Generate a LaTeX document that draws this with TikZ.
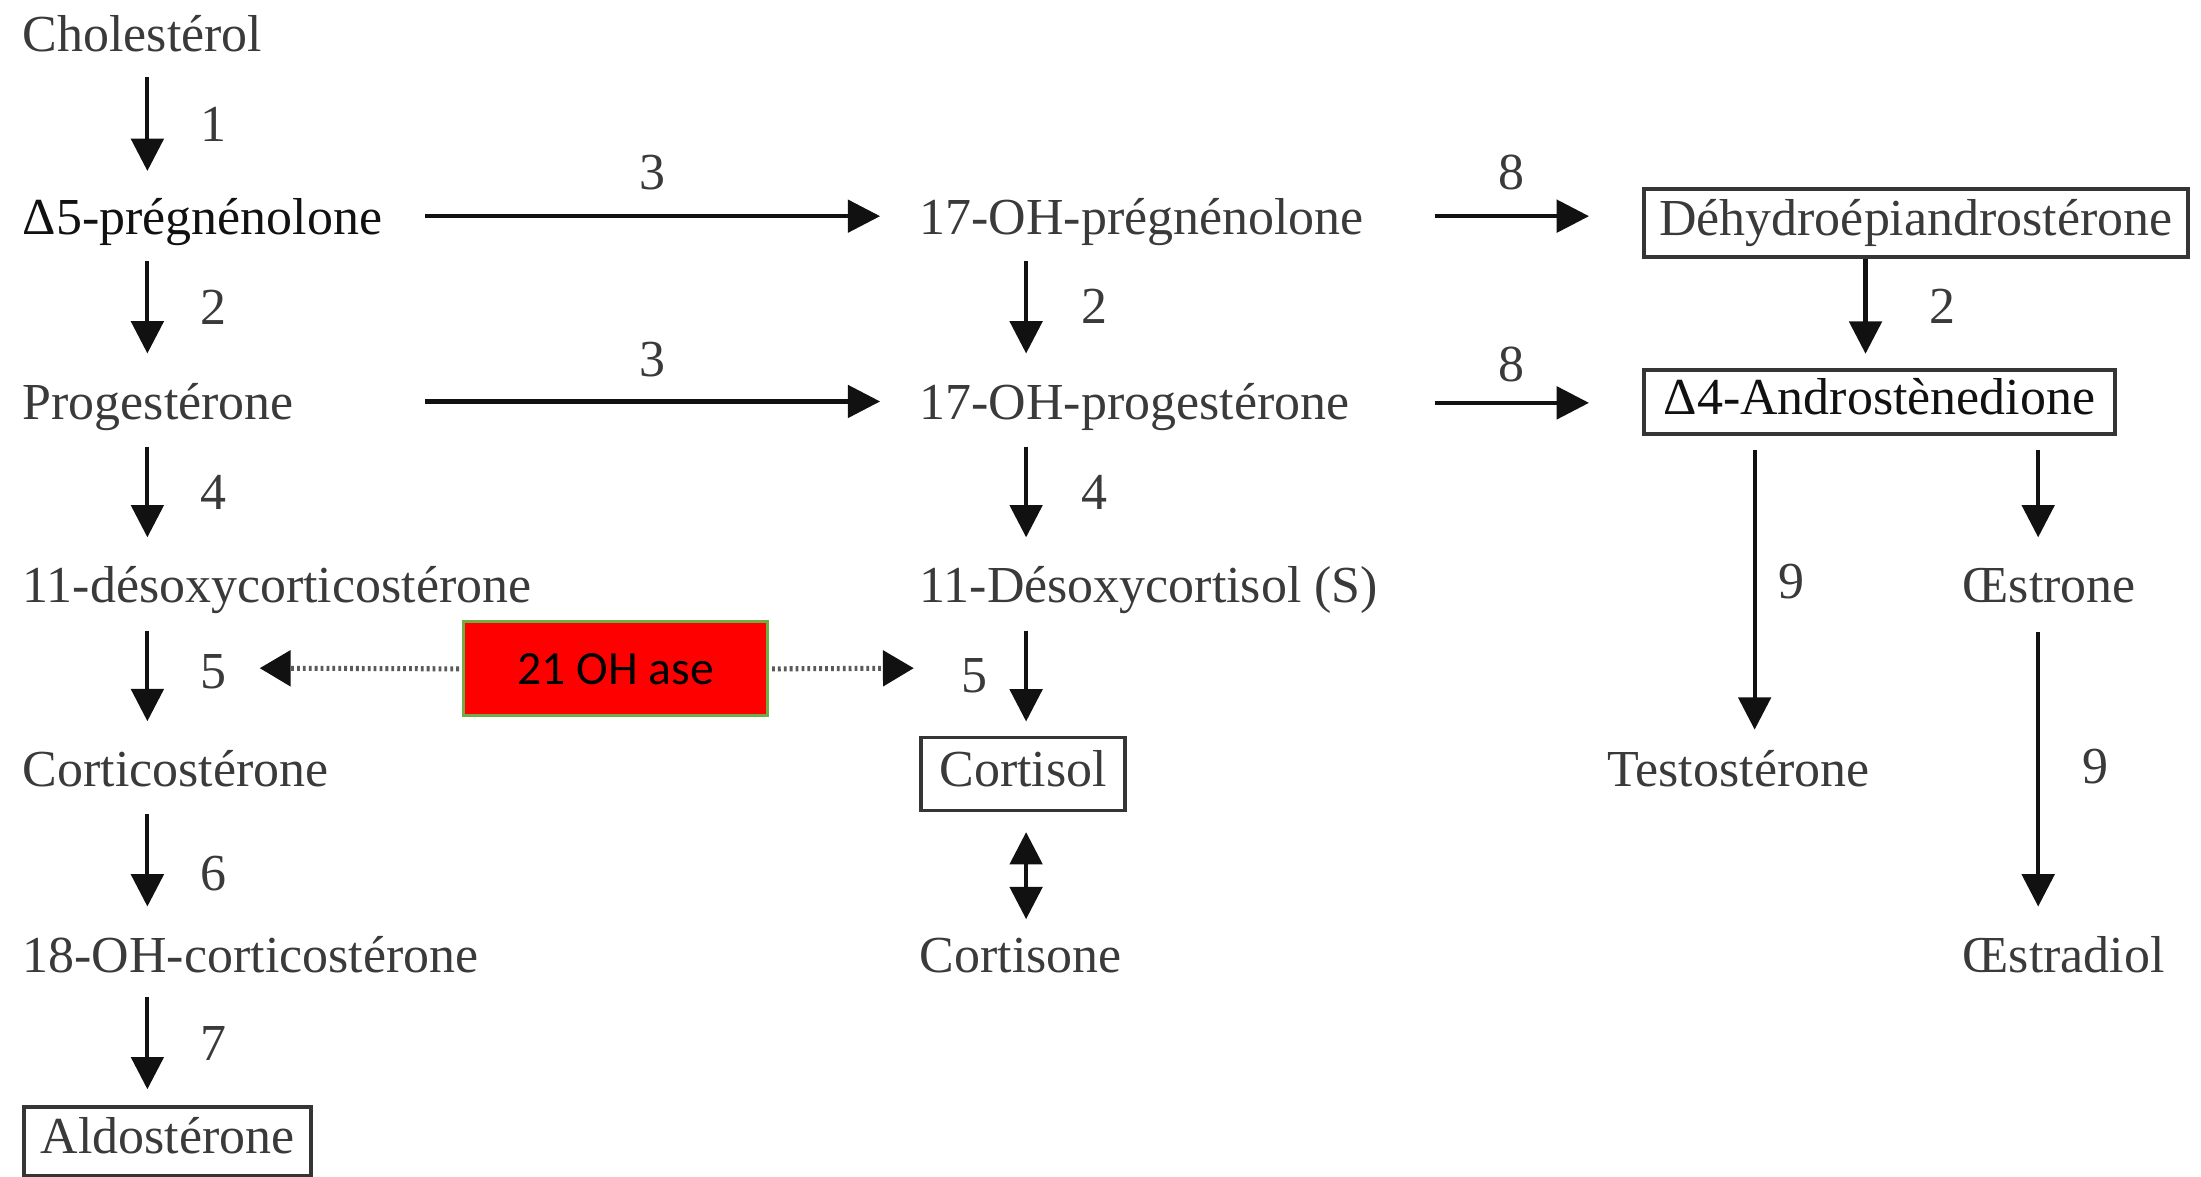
\documentclass[tikz,border=0pt]{standalone}
\usepackage{fontspec}
\setmainfont{Liberation Serif}
\newfontfamily\calfont{Carlito}
\usetikzlibrary{arrows.meta,calc}
\definecolor{txt}{HTML}{3A3A3A}
\definecolor{ink}{HTML}{111111}
\definecolor{dotc}{HTML}{5A5A5A}
\definecolor{boxgreen}{HTML}{70AD47}
\begin{document}
\begin{tikzpicture}[x=1pt,y=-1pt,
  lbl/.style={anchor=base west, inner sep=0pt, text height=26pt, text depth=8pt,
              font=\fontsize{37}{40}\selectfont, text=txt},
  dark/.style={text=ink},
  boxed/.style={draw=ink!85, line width=2.8pt, inner sep=0pt, text height=26pt, text depth=8pt,
              font=\fontsize{37}{40}\selectfont, text=txt, anchor=north west, minimum height=49pt},
  num/.style={inner sep=0pt, font=\fontsize{37}{40}\selectfont, text=txt},
  arr/.style={draw=ink, line width=3pt, -{Triangle[width=23pt,length=23pt]}},
  darr/.style={draw=ink, line width=3pt, {Triangle[width=23pt,length=23pt]}-{Triangle[width=23pt,length=23pt]}},
  dotarr/.style={draw=dotc, line width=3.6pt, dash pattern=on 2pt off 2.2pt, shorten <=2pt,
              -{Triangle[width=25pt,length=22pt,color=ink]}}
]
\fill[white] (0,0) rectangle (1568,838);
\useasboundingbox (0,0) rectangle (1568,838);

% column coordinates
\coordinate (cA) at (105,0);
\coordinate (cB) at (731,0);
\coordinate (cC) at (1329,0);
\coordinate (cD) at (1250,0);
\coordinate (cE) at (1452,0);
\coordinate (hs3) at (303,0);
\coordinate (he3) at (627,0);
\coordinate (hs8) at (1022,0);
\coordinate (he8) at (1132,0);

% left column
\node[lbl] (chol) at (16,37) {Cholestérol};
\node[lbl,dark] (d5p) at (16,167) {Δ5-prégnénolone};
\node[lbl] (prog) at (16,299) {Progestérone};
\node[lbl] (ddoc) at (16,429) {11-désoxycorticostérone};
\node[lbl] (cortico) at (16,560) {Corticostérone};
\node[lbl] (ohcort) at (16,693) {18-OH-corticostérone};
\node[boxed, minimum width=204pt] (aldo) at (16,787) {Aldostérone};

% middle column
\node[lbl] (ohp) at (655,167) {17-OH-prégnénolone};
\node[lbl] (ohprog) at (655,299) {17-OH-progestérone};
\node[lbl] (dcs) at (655,429) {11-Désoxycortisol (S)};
\node[boxed, minimum width=145pt, minimum height=52pt] (cortisol) at (655,524) {Cortisol};
\node[lbl] (cortisone) at (655,693) {Cortisone};

% right part
\node[boxed, minimum width=387pt] (dhea) at (1170,133) {Déhydroépiandrostérone};
\node[boxed, minimum width=335pt, minimum height=46pt, text=ink] (d4) at (1170,262) {Δ4-Androstènedione};
\node[lbl] (testo) at (1145,560) {Testostérone};
\node[lbl] (oestrone) at (1398,429) {Œstrone};
\node[lbl] (oestradiol) at (1398,693) {Œstradiol};

% enzyme box
\node[draw=boxgreen, fill=red, line width=2pt, minimum width=217pt, minimum height=67pt,
      inner sep=0pt, font=\calfont\fontsize{34}{36}\selectfont, text=black] (enz) at (438.5,476.5) {21 OH ase};
\coordinate (dl) at (185,476);
\coordinate (dr) at (651,476);

% left column arrows
\draw[arr] ($(chol.south -| cA)+(0,10)$) -- ($(d5p.north -| cA)+(0,-19)$) node[num,midway,xshift=47pt]{1};
\draw[arr] ($(d5p.south -| cA)+(0,11)$) -- ($(prog.north -| cA)+(0,-21)$) node[num,midway,xshift=47pt]{2};
\draw[arr] ($(prog.south -| cA)+(0,11)$) -- ($(ddoc.north -| cA)+(0,-20)$) node[num,midway,xshift=47pt]{4};
\draw[arr] ($(ddoc.south -| cA)+(0,12)$) -- ($(cortico.north -| cA)+(0,-20)$) node[num,midway,xshift=47pt,yshift=3pt]{5};
\draw[arr] ($(cortico.south -| cA)+(0,12)$) -- ($(ohcort.north -| cA)+(0,-21)$) node[num,midway,xshift=47pt,yshift=-9pt]{6};
\draw[arr] ($(ohcort.south -| cA)+(0,9)$) -- ($(aldo.north -| cA)+(0,-11)$) node[num,midway,xshift=47pt]{7};

% middle column arrows
\draw[arr] ($(ohp.south -| cB)+(0,11)$) -- ($(ohprog.north -| cB)+(0,-21)$) node[num,midway,xshift=49pt,yshift=1pt]{2};
\draw[arr] ($(ohprog.south -| cB)+(0,11)$) -- ($(dcs.north -| cB)+(0,-20)$) node[num,midway,xshift=49pt]{4};
\draw[arr] ($(dcs.south -| cB)+(0,12)$) -- ($(cortisol.north -| cB)+(0,-10)$) node[num,midway,xshift=-37pt]{5};
\draw[darr] ($(cortisol.south -| cB)+(0,14)$) -- ($(cortisone.north -| cB)+(0,-12)$);

% horizontal arrows
\draw[arr] ($(d5p.east -| hs3)+(0,-4)$) -- ($(ohp.west -| he3)+(0,-4)$) node[num,midway,yshift=31pt]{3};
\draw[arr] ($(prog.east -| hs3)+(0,-4)$) -- ($(ohprog.west -| he3)+(0,-4)$) node[num,midway,yshift=30pt]{3};
\draw[arr] ($(ohp.east -| hs8)+(0,-4)$) -- ($(ohp.east -| he8)+(0,-4)$) node[num,midway,yshift=31pt]{8};
\draw[arr] ($(ohprog.east -| hs8)+(0,-3)$) -- ($(ohprog.east -| he8)+(0,-3)$) node[num,midway,yshift=27pt]{8};

% right arrows
\draw[arr] (dhea.south -| cC) -- ($(d4.north -| cC)+(0,-10)$) node[num,midway,xshift=55pt]{2};
\draw[arr] ($(d4.south -| cD)+(0,10)$) -- ($(testo.north -| cD)+(0,-14)$) node[num,midway,xshift=26pt,yshift=6pt]{9};
\draw[arr] ($(d4.south -| cE)+(0,10)$) -- ($(oestrone.north -| cE)+(0,-20)$);
\draw[arr] ($(oestrone.south -| cE)+(0,13)$) -- ($(oestradiol.north -| cE)+(0,-21)$) node[num,midway,xshift=41pt,yshift=2pt]{9};

% dotted enzyme arrows
\draw[dotarr] (enz.west) -- (dl);
\draw[dotarr] (enz.east) -- (dr);
\end{tikzpicture}
\end{document}
